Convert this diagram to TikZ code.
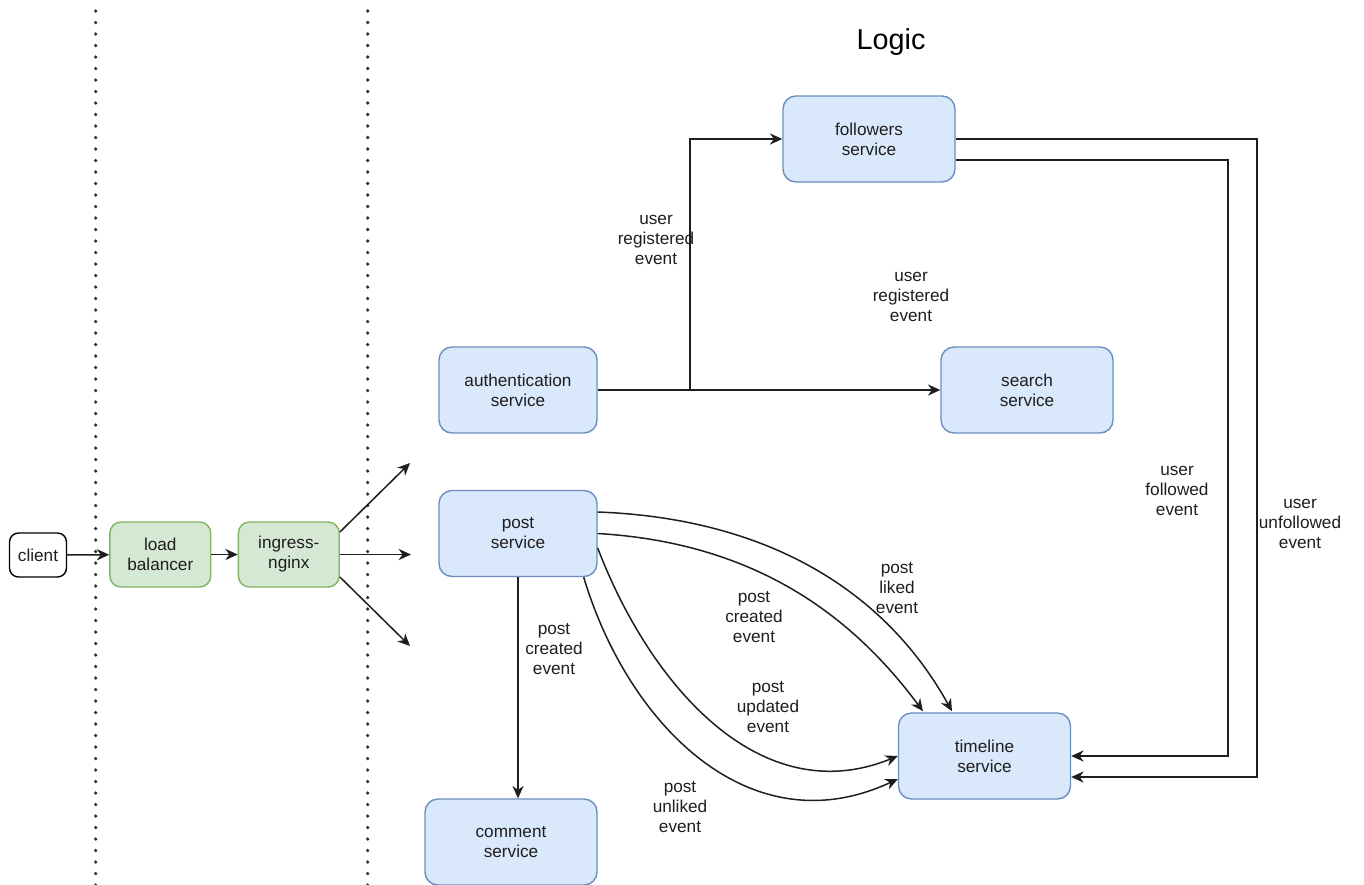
\documentclass[tikz,border=0pt]{standalone}
\usepackage{fontspec}
\setmainfont{Liberation Sans}
\usetikzlibrary{arrows.meta,calc}
\definecolor{bluefill}{HTML}{DAE8FC}
\definecolor{blueline}{HTML}{6C8EBF}
\definecolor{greenfill}{HTML}{D5E8D4}
\definecolor{greenline}{HTML}{82B366}
\definecolor{ink}{HTML}{1E1E1E}
\begin{document}
\begin{tikzpicture}[x=0.5pt,y=-0.5pt,
  every node/.style={font=\fontsize{8.6pt}{10pt}\selectfont, align=center, inner sep=0pt, text=ink},
  svc/.style={draw=blueline, fill=bluefill, rounded corners=6.5pt, line width=0.7pt,
              minimum width=86pt, minimum height=43pt},
  narrowsvc/.style={svc, minimum width=79pt},
  edgebox/.style={draw=greenline, fill=greenfill, rounded corners=5.5pt, line width=0.7pt,
              minimum width=50.4pt, minimum height=32.5pt},
  plainbox/.style={draw=black, fill=white, rounded corners=4.5pt, line width=0.7pt,
              minimum width=28.5pt, minimum height=22pt},
  flow/.style={draw=ink, line width=0.75pt, -{Stealth[length=6.2pt,width=5.6pt,inset=2pt]}},
  lbl/.style={},
  zone/.style={line width=1.8pt, line cap=round, dash pattern=on 0pt off 5.75pt, draw=black!80}]

\useasboundingbox (0,0) rectangle (1364,884);

% zone separators
\draw[zone] (95.7,11) -- (95.7,890);
\draw[zone] (367.7,11) -- (367.7,890);

% title
\node[font=\fontsize{14.4pt}{16pt}\selectfont, text=black] (title) at (891,42) {Logic};

% entry chain
\node[plainbox] (client) at (38,555) {client};
\node[edgebox] (lb) at (160.3,554.5) {load\\balancer};
\node[edgebox] (ingress) at (288.8,554.5) {ingress-\\nginx};

\coordinate (outA) at (410,463);
\coordinate (outB) at (411,554.5);
\coordinate (outC) at (410,646);

\draw[flow] (client) -- (lb);
\draw[flow] (lb) -- (ingress);
\draw[flow] ($(ingress.east)+(0,-22.5)$) -- (outA);
\draw[flow] (ingress.east) -- (outB);
\draw[flow] ($(ingress.east)+(0,22.5)$) -- (outC);

% services
\node[svc] (followers) at (869,139) {followers\\service};
\node[narrowsvc] (auth) at (518,390) {authentication\\service};
\node[svc] (search) at (1027,390) {search\\service};
\node[narrowsvc] (post) at (518,533.5) {post\\service};
\node[svc] (timeline) at (984.5,756) {timeline\\service};
\node[svc] (comment) at (511,842) {comment\\service};

% user registered
\coordinate (split) at (690,390);
\draw[flow] (auth.east) -- (search.west);
\draw[flow] (split) |- (followers.west);
\node[lbl] (regA) at (656,240) {user\\registered\\event};
\node[lbl] (regB) at (911,297) {user\\registered\\event};

% follow / unfollow
\draw[flow] (followers.east) -| (1257,777) -- ($(timeline.east)+(0,21)$);
\draw[flow] ($(followers.east)+(0,21)$) -| (1228,756) -- (timeline.east);
\node[lbl] (followed) at (1177,491) {user\\followed\\event};
\node[lbl] (unfollowed) at (1300,524) {user\\unfollowed\\event};

% post events
\draw[flow] (post.south) -- (post.south |- comment.north);
\node[lbl] (createdA) at (554,649) {post\\created\\event};

\draw[flow] ($(post.east)+(0,-21.5)$) .. controls (760,518) and (882,585) .. ($(timeline.north)+(-32.5,-1)$);
\draw[flow] (post.east) .. controls (740,542) and (842,602) .. ($(timeline.north)+(-61.5,-1)$);
\draw[flow] ($(post.east)+(0,14.5)$) .. controls (650,685) and (760,812) .. (timeline.west);
\draw[flow] ($(post.south east)+(-14,0)$) .. controls (628,725) and (750,848) .. ($(timeline.west)+(0,23)$);

\node[lbl] (liked) at (897,588) {post\\liked\\event};
\node[lbl] (createdB) at (754,617) {post\\created\\event};
\node[lbl] (updated) at (768,707) {post\\updated\\event};
\node[lbl] (unliked) at (680,807) {post\\unliked\\event};

\end{tikzpicture}
\end{document}
